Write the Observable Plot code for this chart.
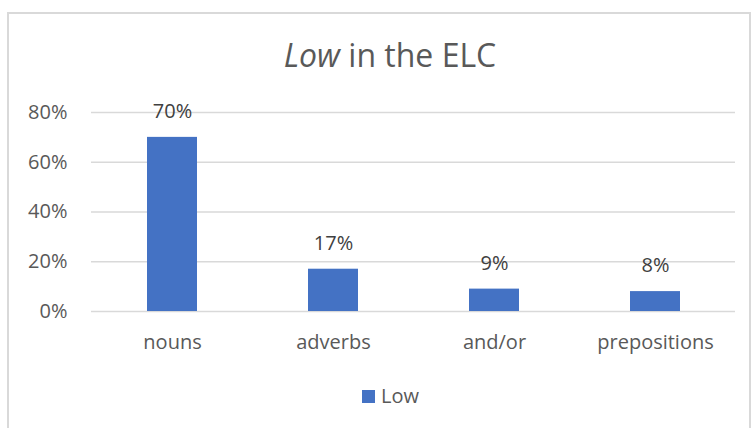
<!DOCTYPE html>
<html>
<head>
<meta charset="utf-8">
<script src="https://cdn.jsdelivr.net/npm/d3@7"></script>
<script src="https://cdn.jsdelivr.net/npm/@observablehq/plot@0.6"></script>
<style>
  body { margin: 0; background: #fff; }
  #wrap { position: relative; width: 751px; height: 428px; overflow: hidden; background: #fff; font-family: "Open Sans", sans-serif; color: #595959; }
  #frame { position: absolute; left: 7px; top: 12px; width: 744px; height: 440px; border: 2px solid #d9d9d9; box-sizing: border-box; }
  #title { position: absolute; left: 0; width: 780px; top: 33px; text-align: center; font-size: 32px; line-height: 44px; color: #595959; }
  #legend { position: absolute; top: 382px; left: 362px; font-size: 20px; line-height: 28px; display: flex; align-items: center; }
  #legend .sw { width: 13px; height: 13px; background: #4472c4; margin-right: 6px; }
  svg { position: absolute; left: 0; top: 0; }
</style>
</head>
<body>
<div id="wrap">
  <div id="frame"></div>
  <div id="title"><i>Low</i> in the ELC</div>
  <div id="legend"><div class="sw"></div><span id="legtext"></span></div>
</div>
<script>
const categories = ["nouns", "adverbs", "and/or", "prepositions"];
const values = [0.70, 0.17, 0.09, 0.08];
const yTicks = [0, 0.2, 0.4, 0.6, 0.8];
const seriesName = "Low";

const data = categories.map((c, i) => ({category: c, value: values[i]}));
const pct = d3.format(".0%");

const chart = Plot.plot({
  width: 751,
  height: 428,
  marginTop: 112,
  marginBottom: 117,
  marginLeft: 91,
  marginRight: 16,
  style: {fontFamily: "Open Sans, sans-serif", fontSize: "20px", color: "#595959", background: "transparent", overflow: "visible"},
  x: {domain: categories, paddingInner: 0.69, paddingOuter: 0.345, label: null},
  y: {domain: [0, 0.8], label: null},
  marks: [
    Plot.gridY(yTicks, {stroke: "#d9d9d9", strokeOpacity: 1, strokeWidth: 1.5}),
    Plot.barY(data, {x: "category", y: "value", fill: "#4472c4"}),
    Plot.text(data, {x: "category", y: "value", text: d => pct(d.value), dy: -26, fill: "#404040", fontSize: 20}),
    Plot.axisY(yTicks, {tickFormat: pct, tickSize: 0, tickPadding: 24, fontSize: 20, fill: "#595959"}),
    Plot.axisX({tickSize: 0, tickPadding: 23, fontSize: 20, fill: "#595959"})
  ]
});
document.getElementById("wrap").appendChild(chart);
document.getElementById("legtext").textContent = seriesName;
</script>
</body>
</html>
